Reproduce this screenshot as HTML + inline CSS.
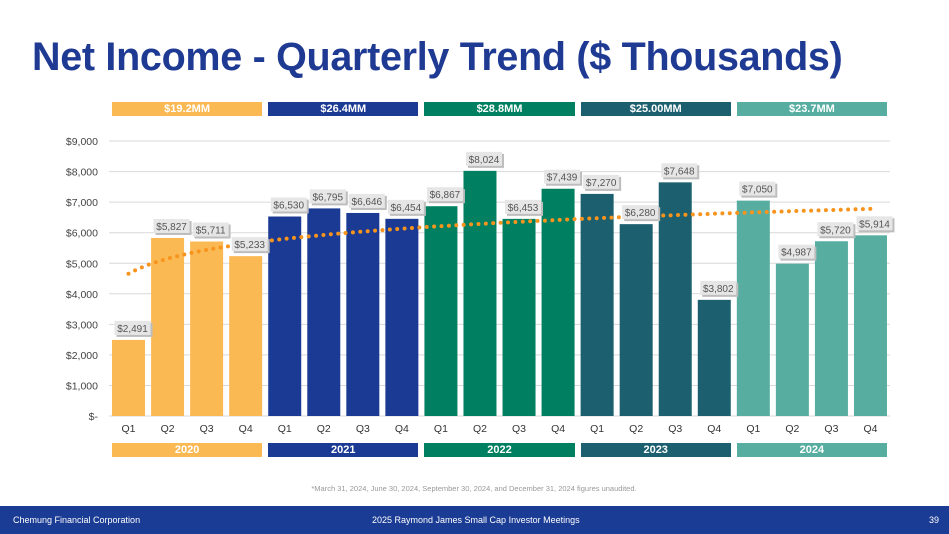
<!DOCTYPE html>
<html><head><meta charset="utf-8"><style>
body{margin:0;width:949px;height:534px;background:#fff;font-family:"Liberation Sans",sans-serif;overflow:hidden;position:relative}
.title{position:absolute;left:32px;top:35px;font-size:39.5px;font-weight:bold;color:#1f3a93;letter-spacing:-0.3px;white-space:nowrap}
.band{position:absolute;height:14px;color:#fff;font-size:11px;font-weight:bold;text-align:center;line-height:14px}
.footer{position:absolute;left:0;top:506px;width:949px;height:28px;background:#1b3c94;color:#fff;font-size:9px;line-height:28px}
</style></head><body>
<div class="title">Net Income - Quarterly Trend ($ Thousands)</div>
<svg id="chart" width="949" height="534" style="position:absolute;left:0;top:0"></svg>
<div class="footer">
<span style="position:absolute;left:13px">Chemung Financial Corporation</span>
<span style="position:absolute;left:372px">2025 Raymond James Small Cap Investor Meetings</span>
<span style="position:absolute;right:10px">39</span>
</div>
<script>
const quarters=["Q1","Q2","Q3","Q4"];
const years=["2020","2021","2022","2023","2024"];
const totals=["$19.2MM","$26.4MM","$28.8MM","$25.00MM","$23.7MM"];
const values=[2491,5827,5711,5233,6530,6795,6646,6454,6867,8024,6453,7439,7270,6280,7648,3802,7050,4987,5720,5914];
const yTicks=[0,1000,2000,3000,4000,5000,6000,7000,8000,9000];
const colors=["#fbb954","#1b3a93","#008060","#1c5f6e","#56ada0"];
const NS="http://www.w3.org/2000/svg";
const svg=document.getElementById('chart');
const x0=109,slot=39.05,y0=416,yPer=30.55/1000;
const X=i=>x0+slot*i+slot/2;
const Y=v=>y0-v*yPer;
function mk(t,a){const e=document.createElementNS(NS,t);for(const k in a)e.setAttribute(k,a[k]);svg.appendChild(e);return e;}
yTicks.forEach(v=>{
 const l=mk('line',{x1:x0,x2:890,y1:Y(v),y2:Y(v),stroke:'#d9d9d9','stroke-width':1});
 
 
 const t=mk('text',{x:98,y:Y(v)+4,'text-anchor':'end','font-size':10.5,fill:'#444'});
 t.textContent=v===0?'$-':'$'+v.toLocaleString('en-US');
 
 
});
values.forEach((v,i)=>{
 const c=colors[Math.floor(i/4)];
 const r=mk('rect',{x:X(i)-16.5,y:Y(v),width:33,height:y0-Y(v),fill:c});
 
 
 const q=mk('text',{x:X(i),y:432,'text-anchor':'middle','font-size':10.5,fill:'#333'});
 q.textContent=quarters[i%4];
 
 
});
// logarithmic trendline computed from the data
let n=values.length,sl=0,sy=0,sll=0,sly=0;
values.forEach((v,i)=>{const l=Math.log(i+1);sl+=l;sy+=v;sll+=l*l;sly+=l*v;});
const b=(n*sly-sl*sy)/(n*sll-sl*sl),a=(sy-b*sl)/n;
let pts=[];for(let k=0;k<=190;k++){const t=1+k*(n-1)/190;pts.push((X(t-1)).toFixed(1)+','+Y(a+b*Math.log(t)).toFixed(1));}
const tl=mk('polyline',{points:pts.join(' '),fill:'none',stroke:'#f7941d','stroke-width':4,'stroke-dasharray':'0 7.4','stroke-linecap':'round'});


values.forEach((v,i)=>{
 const s='$'+v.toLocaleString('en-US');
 const w=36,h=14,lx=X(i)-14,ly=Y(v)-19;
 const sh=mk('rect',{x:lx+2,y:ly+2,width:w,height:h,fill:'#bdbdbd'});
 
 
 const bx=mk('rect',{x:lx,y:ly,width:w,height:h,fill:'#e6e6e6'});
 
 
 const t=mk('text',{x:lx+w/2,y:ly+11,'text-anchor':'middle','font-size':10,fill:'#555'});
 t.textContent=s;
 
 
});
years.forEach((y,g)=>{
 const left=X(g*4)-16.5,width=X(g*4+3)+16.5-left;
 const top=document.createElement('div');top.className='band';
 top.style.cssText+=`left:${left}px;top:102px;width:${width}px;background:${colors[g]}`;
 top.textContent=totals[g];
 
 
 document.body.appendChild(top);
 const bot=document.createElement('div');bot.className='band';
 bot.style.cssText+=`left:${left}px;top:443px;width:${width}px;background:${colors[g]}`;
 bot.textContent=y;
 
 
 document.body.appendChild(bot);
});
const fn=mk('text',{x:474,y:491,'text-anchor':'middle','font-size':7.5,fill:'#999'});
fn.textContent='*March 31, 2024, June 30, 2024, September 30, 2024, and December 31, 2024 figures unaudited.';


</script>
</body></html>
